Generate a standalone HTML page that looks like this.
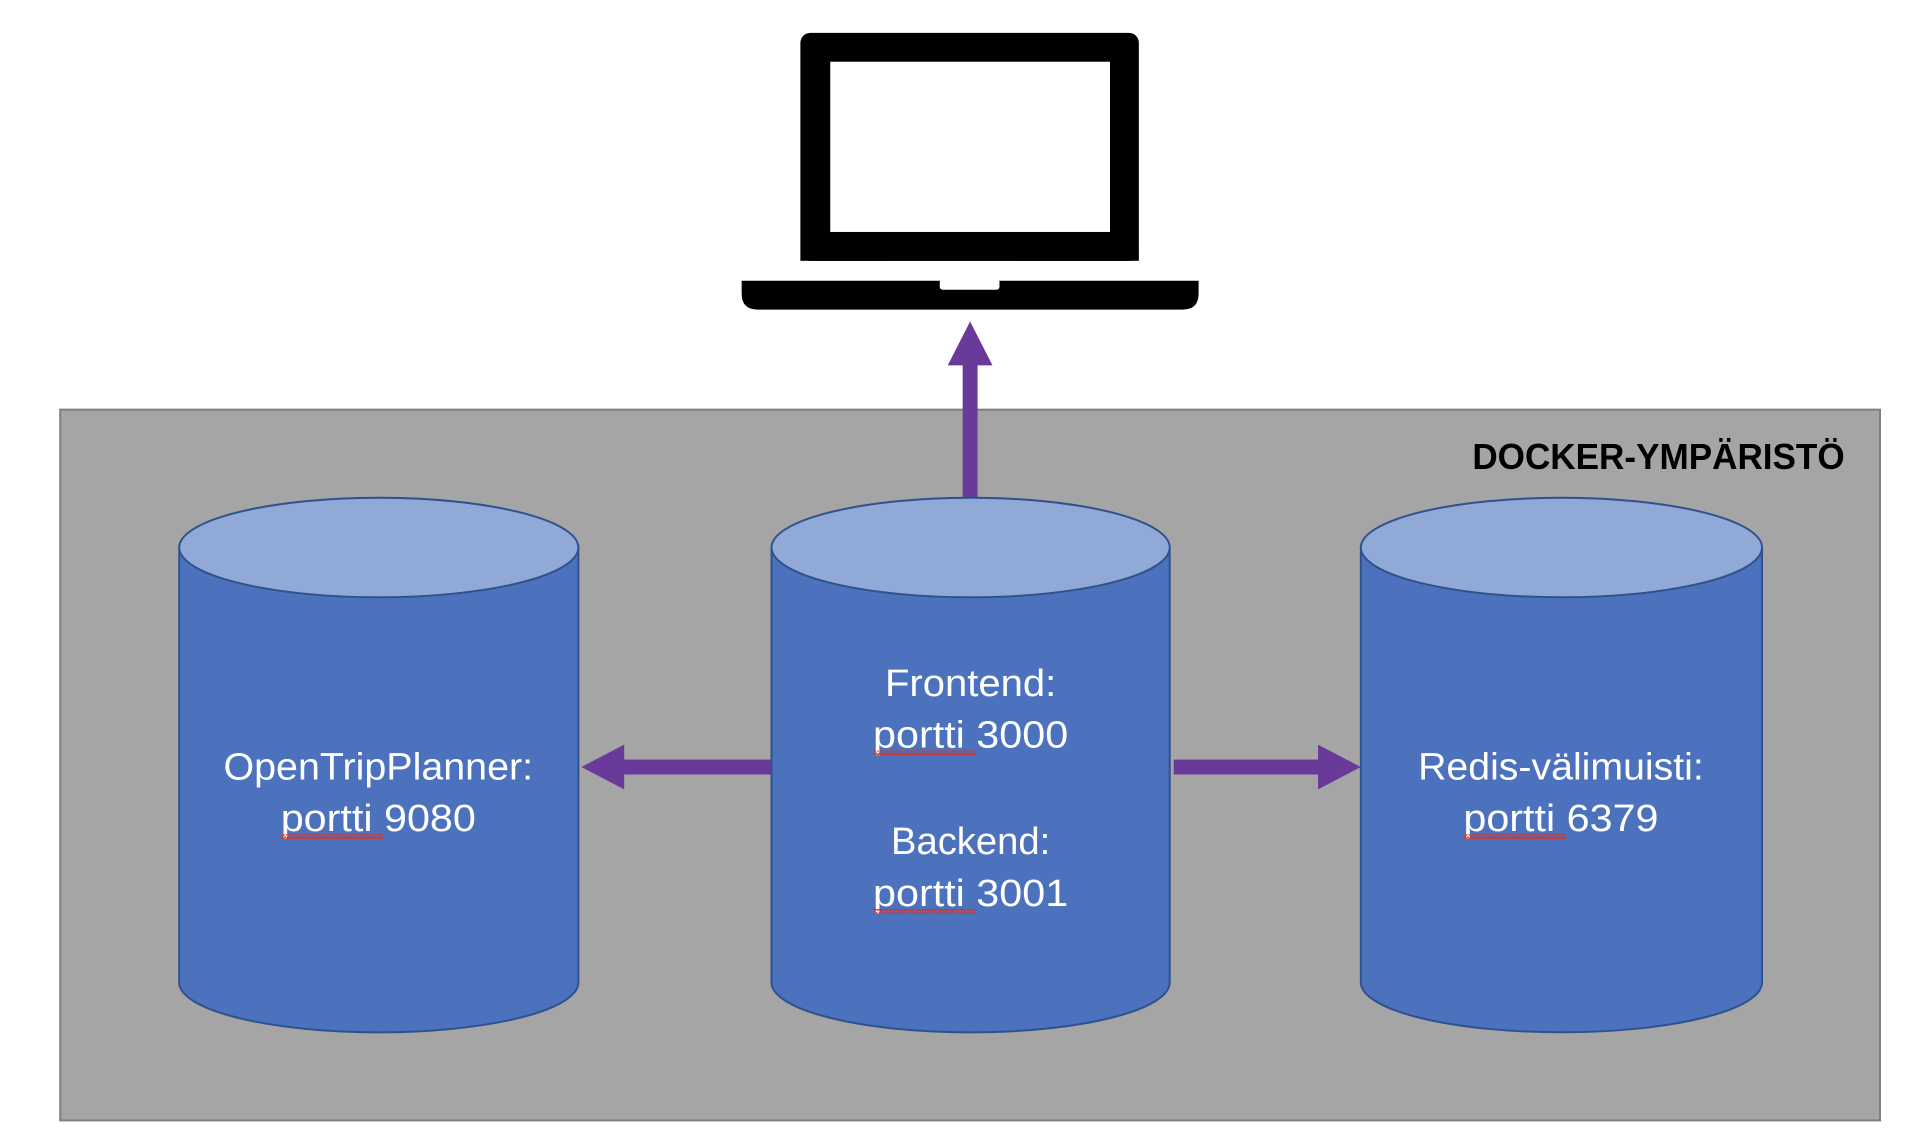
<!DOCTYPE html>
<html><head><meta charset="utf-8"><style>html,body{margin:0;padding:0;background:#fff}svg{display:block}</style></head>
<body>
<svg width="1910" height="1146" viewBox="0 0 1910 1146" xmlns="http://www.w3.org/2000/svg" font-family="Liberation Sans, sans-serif">
<defs>
<pattern id="sq" width="6" height="4" patternUnits="userSpaceOnUse"><path d="M0 3 L1.5 0.5 L3 3 L4.5 0.5 L6 3" stroke="#e0301e" stroke-width="1.2" fill="none"/></pattern>
</defs>
<g transform="scale(0.9955)">
<!-- laptop -->
<rect x="804" y="33" width="340" height="229" rx="10" fill="#000"/>
<rect x="834" y="62" width="281" height="171" fill="#fff"/>
<rect x="804" y="252" width="340" height="10" fill="#000"/>
<path d="M745 282 H1204 V295 Q1204 311 1188 311 H761 Q745 311 745 295 Z" fill="#000"/>
<rect x="944" y="280" width="60" height="11" rx="3" fill="#fff"/>
<!-- docker box -->
<rect x="60.5" y="411.5" width="1828" height="714" fill="#a5a5a5" stroke="#7f7f7f" stroke-width="2"/>
<text x="1853" y="471" font-size="36" font-weight="bold" fill="#000" text-anchor="end" textLength="374" lengthAdjust="spacingAndGlyphs">DOCKER-YMPÄRISTÖ</text>
<!-- arrows -->
<rect x="967" y="365" width="15" height="137" fill="#6a3a9a"/>
<polygon points="974.5,323 952,367 997,367" fill="#6a3a9a"/>
<rect x="625" y="763" width="154" height="15" fill="#6a3a9a"/>
<polygon points="584,770.5 627,748 627,793" fill="#6a3a9a"/>
<rect x="1179" y="763" width="148" height="15" fill="#6a3a9a"/>
<polygon points="1367,770.5 1324,748 1324,793" fill="#6a3a9a"/>
<!-- cylinders -->
<g stroke="#2f528f" stroke-width="2">
<path d="M180 550 V987 A200.5 50 0 0 0 581 987 V550 Z" fill="#4c72bd"/>
<ellipse cx="380.5" cy="550" rx="200.5" ry="50" fill="#91a9d7"/>
<path d="M775 550 V987 A200 50 0 0 0 1175 987 V550 Z" fill="#4c72bd"/>
<ellipse cx="975" cy="550" rx="200" ry="50" fill="#91a9d7"/>
<path d="M1367 550 V987 A201.5 50 0 0 0 1770 987 V550 Z" fill="#4c72bd"/>
<ellipse cx="1568.5" cy="550" rx="201.5" ry="50" fill="#91a9d7"/>
</g>
<g fill="#fff" font-size="38" text-anchor="middle">
<text x="975" y="699" textLength="172" lengthAdjust="spacingAndGlyphs">Frontend:</text>
<text x="975" y="751" textLength="196" lengthAdjust="spacingAndGlyphs">portti 3000</text>
<text x="975" y="858" textLength="160" lengthAdjust="spacingAndGlyphs">Backend:</text>
<text x="975" y="910" textLength="196" lengthAdjust="spacingAndGlyphs">portti 3001</text>
<text x="380" y="783" textLength="311" lengthAdjust="spacingAndGlyphs">OpenTripPlanner:</text>
<text x="380" y="835" textLength="196" lengthAdjust="spacingAndGlyphs">portti 9080</text>
<text x="1568" y="783" textLength="287" lengthAdjust="spacingAndGlyphs">Redis-välimuisti:</text>
<text x="1568" y="835" textLength="196" lengthAdjust="spacingAndGlyphs">portti 6379</text>
</g>
<g fill="url(#sq)">
<rect x="877" y="754" width="103" height="5"/>
<rect x="877" y="913" width="103" height="5"/>
<rect x="282" y="838" width="103" height="5"/>
<rect x="1470" y="838" width="103" height="5"/>
</g>
</g>
</svg>
</body></html>
